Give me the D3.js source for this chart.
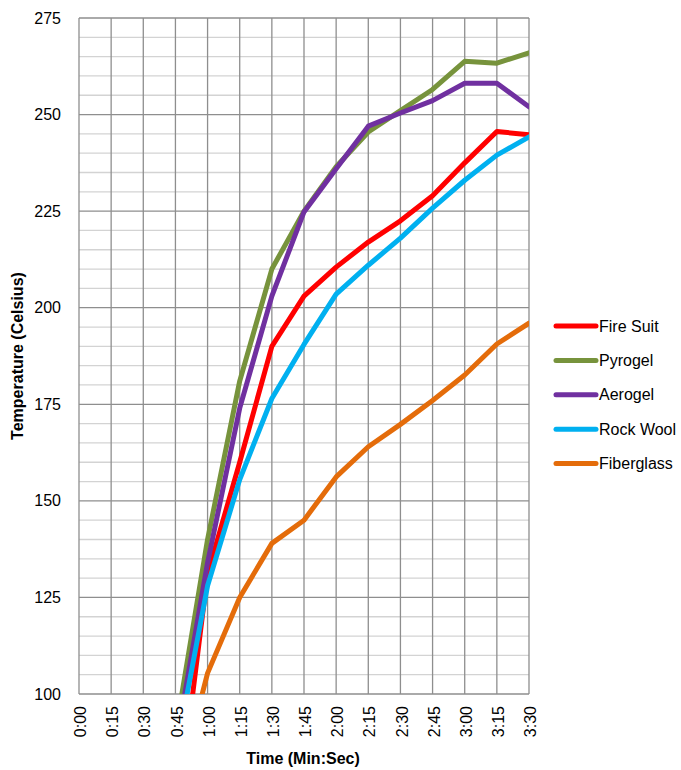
<!DOCTYPE html>
<html>
<head>
<meta charset="utf-8">
<script src="https://cdn.jsdelivr.net/npm/d3@7/dist/d3.min.js"></script>
<style>
  html, body { margin: 0; padding: 0; background: #fff; }
  svg { display: block; font-family: "Liberation Sans", Arial, sans-serif; }
</style>
</head>
<body>
<svg id="chart" width="681" height="770"></svg>
<script>
// Time categories (min:sec)
const times = ["0:00","0:15","0:30","0:45","1:00","1:15","1:30","1:45","2:00","2:15","2:30","2:45","3:00","3:15","3:30"];

// Temperature readings (°C) per material; early readings lie below the axis floor
const fireSuit   = [null, null, null, 64, 131, 160, 190, 203, 210.5, 217, 222.5, 229, 237.5, 245.6, 244.8];
const pyrogel    = [null, null, null, 90, 140, 181, 210, 225, 236.5, 245.5, 251, 256.5, 263.8, 263.3, 266];
const aerogel    = [null, null, null, 86, 134, 174, 203, 224.8, 236, 247, 250.4, 253.6, 258.1, 258.1, 252];
const rockWool   = [null, null, null, 84, 128, 155.5, 176.5, 190.5, 203.5, 211, 218, 225.8, 233, 239.5, 244.2];
const fiberglass = [null, null, null, 73, 105.4, 125, 139, 145, 156.2, 164, 169.8, 176, 182.6, 190.6, 196];

const seriesNames  = ["Fire Suit", "Pyrogel", "Aerogel", "Rock Wool", "Fiberglass"];
const seriesValues = [fireSuit, pyrogel, aerogel, rockWool, fiberglass];
const seriesColors = ["#FF0000", "#77933C", "#7030A0", "#00B0F0", "#E46C0A"];

const yTicks = [100, 125, 150, 175, 200, 225, 250, 275];
const yMinor = d3.range(100, 276, 5);

const plot = { left: 79, right: 529, top: 18, bottom: 694 };
const svg = d3.select("#chart");

const x = d3.scalePoint().domain(times).range([plot.left, plot.right]).padding(0);
const y = d3.scaleLinear().domain([100, 275]).range([plot.bottom, plot.top]);

// Minor horizontal gridlines
svg.append("g").selectAll("line").data(yMinor.filter(v => v % 25 !== 0)).join("line")
  .attr("x1", plot.left).attr("x2", plot.right)
  .attr("y1", d => y(d)).attr("y2", d => y(d))
  .attr("stroke", "#d3d3d3").attr("stroke-width", 1.3);

// Major horizontal gridlines
svg.append("g").selectAll("line").data(yTicks).join("line")
  .attr("x1", plot.left).attr("x2", plot.right)
  .attr("y1", d => y(d)).attr("y2", d => y(d))
  .attr("stroke", "#8e8e8e").attr("stroke-width", 1.3);

// Vertical gridlines at each time category
svg.append("g").selectAll("line").data(times).join("line")
  .attr("x1", d => x(d)).attr("x2", d => x(d))
  .attr("y1", plot.top).attr("y2", plot.bottom)
  .attr("stroke", "#8e8e8e").attr("stroke-width", 1.3);

// Y axis labels
const yAxis = d3.axisLeft(y).tickValues(yTicks).tickSize(0).tickPadding(18);
const gy = svg.append("g").attr("transform", `translate(${plot.left},0)`).call(yAxis);
gy.select(".domain").remove();
gy.selectAll("text").attr("font-size", 16).attr("fill", "#000")
  .attr("font-family", "Liberation Sans, Arial, sans-serif");

// X axis labels, rotated
const xAxis = d3.axisBottom(x).tickSize(0).tickPadding(0);
const gx = svg.append("g").attr("transform", `translate(0,${plot.bottom})`).call(xAxis);
gx.select(".domain").remove();
gx.selectAll("text")
  .attr("font-size", 16).attr("fill", "#000")
  .attr("font-family", "Liberation Sans, Arial, sans-serif")
  .attr("text-anchor", "end")
  .attr("dy", "0.35em")
  .attr("transform", "translate(1,12) rotate(-90)")
  .attr("x", 0).attr("y", 0);

// Data lines clipped to the plot area
svg.append("clipPath").attr("id", "plot-clip").append("rect")
  .attr("x", plot.left).attr("y", plot.top)
  .attr("width", plot.right - plot.left).attr("height", plot.bottom - plot.top);

const line = d3.line()
  .defined(d => d != null)
  .x((d, i) => x(times[i]))
  .y(d => y(d));

const lines = svg.append("g").attr("clip-path", "url(#plot-clip)");
seriesValues.forEach((vals, k) => {
  lines.append("path")
    .datum(vals)
    .attr("d", line)
    .attr("fill", "none")
    .attr("stroke", seriesColors[k])
    .attr("stroke-width", 5)
    .attr("stroke-linejoin", "round")
    .attr("stroke-linecap", "round");
});

// Axis titles
svg.append("text")
  .attr("x", (plot.left + plot.right) / 2 - 1).attr("y", 764)
  .attr("text-anchor", "middle").attr("font-size", 16).attr("font-weight", "bold")
  .text("Time (Min:Sec)");

svg.append("text")
  .attr("transform", `translate(23,${(plot.top + plot.bottom) / 2}) rotate(-90)`)
  .attr("text-anchor", "middle").attr("font-size", 16).attr("font-weight", "bold")
  .text("Temperature (Celsius)");

// Legend
const legend = svg.append("g").attr("transform", "translate(556,326)");
seriesNames.forEach((name, k) => {
  const g = legend.append("g").attr("transform", `translate(0,${k * 34.4})`);
  g.append("line").attr("x1", 0).attr("x2", 40).attr("y1", 0).attr("y2", 0)
    .attr("stroke", seriesColors[k]).attr("stroke-width", 5).attr("stroke-linecap", "round");
  g.append("text").attr("x", 43).attr("y", 0).attr("dy", "0.35em")
    .attr("font-size", 16).attr("fill", "#000").text(name);
});
</script>
</body>
</html>
